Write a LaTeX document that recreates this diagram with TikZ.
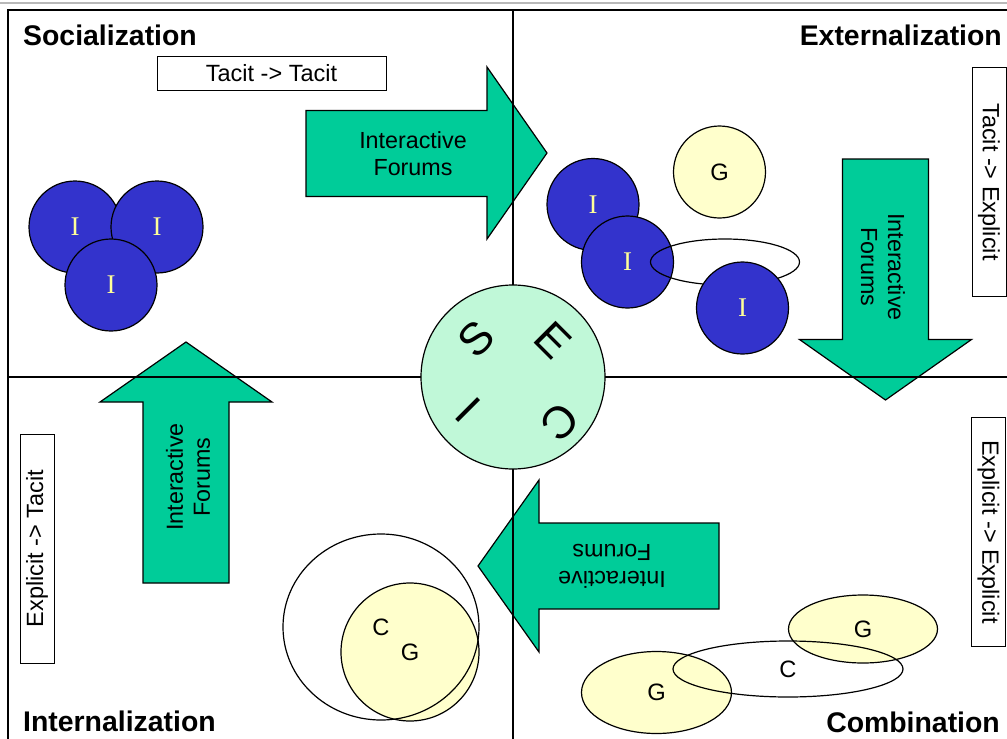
\documentclass[tikz,border=0pt]{standalone}
\usepackage{fontspec}
\setmainfont{Liberation Sans}
\newfontfamily\iletter{Liberation Serif}
\usetikzlibrary{positioning,shapes.geometric}
\definecolor{flowgreen}{RGB}{0,204,153}
\definecolor{secigreen}{RGB}{192,248,216}
\definecolor{indblue}{RGB}{51,51,204}
\definecolor{grpyellow}{RGB}{255,255,204}
\definecolor{indtext}{RGB}{255,255,153}

\begin{document}
\begin{tikzpicture}
    [%%%%%%%%%%%%%%%%%%%%%%%%%%%%%%%%%%%%%%%%%%%%%%%%%%%%%%%%%%
        x=1pt,y=-1pt,
        quadtitle/.style={inner sep=0pt,font=\fontsize{28.4}{30}\selectfont\bfseries},
        modebox/.style={draw,line width=1pt,minimum width=229pt,minimum height=34pt,
                        inner sep=0pt,font=\fontsize{23.5}{24}\selectfont},
        flow/.style={draw,fill=flowgreen,line width=1.2pt},
        flowtext/.style={align=center,inner sep=0pt,font=\fontsize{23.3}{27}\selectfont},
        indiv/.style={circle,draw,fill=indblue,line width=1.2pt,minimum size=92pt,
                      inner sep=0pt,text=indtext,font=\iletter\fontsize{27}{27}\selectfont},
        group/.style={ellipse,draw,fill=grpyellow,line width=1.2pt,inner sep=0pt,
                      font=\fontsize{23.7}{24}\selectfont},
        ring/.style={ellipse,draw,line width=1.2pt,inner sep=0pt,
                     font=\fontsize{23.7}{24}\selectfont},
        seciletter/.style={inner sep=0pt,font=\fontsize{45}{45}\selectfont}
    ]%%%%%%%%%%%%%%%%%%%%%%%%%%%%%%%%%%%%%%%%%%%%%%%%%%%%%%%%%%
    \useasboundingbox (0,0) rectangle (1007,739);
    \draw[gray!55,line width=2pt] (0,3) -- (1007,3);

    % the four flows
    \draw[flow] (306,110.5) -- (487,110.5) -- (487,67) -- (547,153) -- (487,239) -- (487,196.5) -- (306,196.5) -- cycle;
    \draw[flow] (842.5,159) -- (928.5,159) -- (928.5,339.5) -- (971.5,339.5) -- (885.5,400) -- (799.5,339.5) -- (842.5,339.5) -- cycle;
    \draw[flow] (719,523) -- (539,523) -- (539,480) -- (478,566) -- (539,652) -- (539,609) -- (719,609) -- cycle;
    \draw[flow] (143,583) -- (143,402) -- (100,402) -- (186,342) -- (272,402) -- (229,402) -- (229,583) -- cycle;
    \node[flowtext] (toext) at (413,154) {Interactive\\Forums};
    \node[flowtext,rotate=-90] (tocomb) at (883,267) {Interactive\\Forums};
    \node[flowtext,rotate=180] (toint) at (612,566) {Interactive\\Forums};
    \node[flowtext,rotate=90] (tosoc) at (188,477) {Interactive\\Forums};

    % frame and quadrants
    \draw[line width=1.3pt] (1007,10) -- (8,10) -- (8,739);
    \draw[line width=1.3pt] (513,10) -- (513,739);
    \draw[line width=1.3pt] (8,377) -- (1007,377);

    \node[quadtitle,anchor=base west] (soc) at (23,45) {Socialization};
    \node[quadtitle,anchor=base east] (ext) at (1002,45) {Externalization};
    \node[quadtitle,anchor=base west] (int) at (23,731) {Internalization};
    \node[quadtitle,anchor=base east] (comb) at (1000,732) {Combination};

    \node[modebox] (tt) at (271.5,73) {Tacit -> Tacit};
    \node[modebox,rotate=-90] (te) at (989,182) {Tacit -> Explicit};
    \node[modebox,rotate=-90] (ee) at (988.5,532) {Explicit -> Explicit};
    \node[modebox,rotate=90] (et) at (37,548.5) {Explicit -> Tacit};

    % SECI hub
    \node[circle,draw,fill=secigreen,line width=1.2pt,minimum size=184pt] (seci) at (513,377) {};
    \node[seciletter,rotate=45] (ls) at (476,339) {S};
    \node[seciletter,rotate=-45] (le) at (553,340) {E};
    \node[seciletter,rotate=-135] (lc) at (560,422) {C};
    \node[seciletter,rotate=135] (li) at (468,410) {I};

    % socialization
    \node[indiv] (s1) at (75,227) {I};
    \node[indiv] (s2) at (157,227) {I};
    \node[indiv] (s3) at (111,285) {I};

    % externalization
    \node[indiv] (e1) at (593,204.5) {I};
    \node[indiv] (e2) at (627.5,262) {I};
    \node[ring,minimum width=149pt,minimum height=46pt] (eg) at (725,262) {};
    \node[indiv] (e3) at (742.5,308) {I};
    \node[group,minimum size=92pt] (g1) at (719.5,172) {G};

    % internalization
    \node[group,minimum size=138pt] (g2) at (410,652) {\raisebox{-3pt}{G}};
    \node[ring,minimum width=196pt,minimum height=186pt] (c1) at (381,627) {C};

    % combination
    \node[group,minimum width=150pt,minimum height=82pt] (g3) at (656.5,692.5) {G};
    \node[group,minimum width=149pt,minimum height=68pt] (g4) at (863,629) {G};
    \node[ring,minimum width=230pt,minimum height=56pt] (c2) at (788,669) {C};
\end{tikzpicture}
\end{document}
